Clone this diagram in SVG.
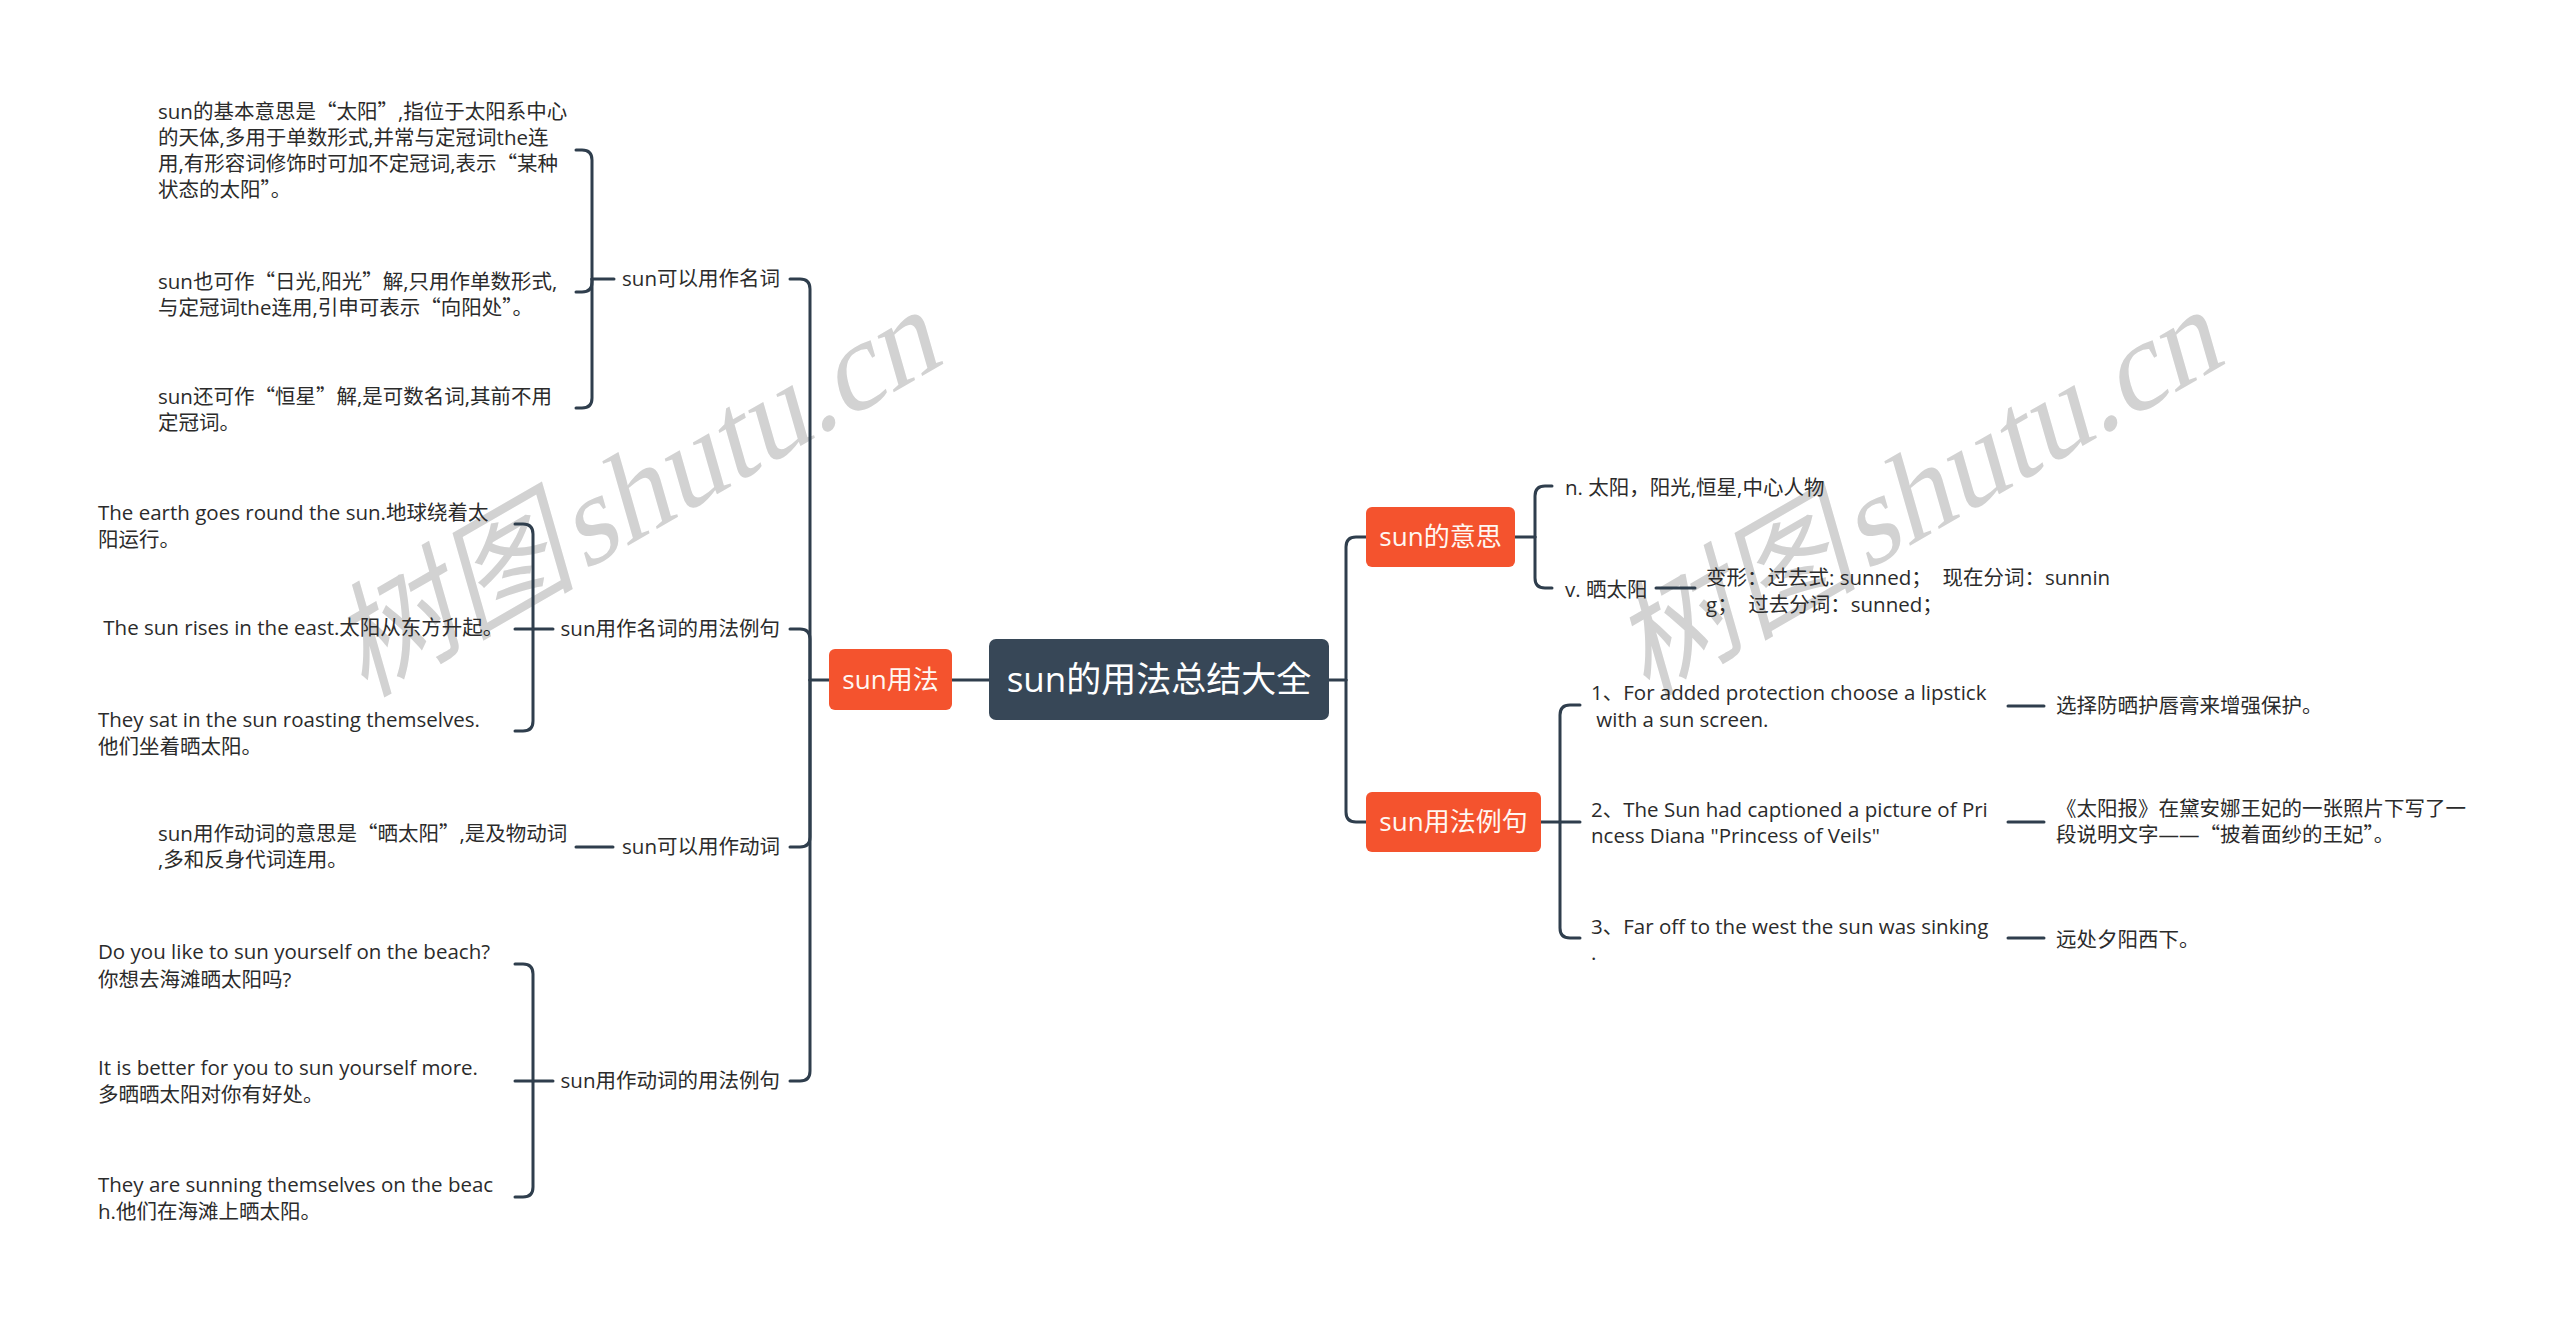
<svg xmlns="http://www.w3.org/2000/svg" width="2560" height="1321" viewBox="0 0 2560 1321">
<style>
.t{font-family:"Open Sans","Noto Sans CJK SC",sans-serif;font-size:20.5px;fill:#2b2b2b}
.q{font-family:"Noto Sans CJK SC",sans-serif}
.bx{fill:#f4532e}
.bt{font-family:"Open Sans","Noto Sans CJK SC",sans-serif;font-size:26px;fill:#fff7f2;text-anchor:middle}
.rt{font-family:"Open Sans","Noto Sans CJK SC",sans-serif;font-size:35px;fill:#ffffff;text-anchor:middle}
.ln{fill:none;stroke:#2f3e4d;stroke-width:3;stroke-linecap:round}
.wm{font-family:"Liberation Serif","Noto Sans CJK SC",serif;font-size:124px;fill:#d2d2d2}
</style>
<rect width="2560" height="1321" fill="#ffffff"/>
<g id="watermarks">
<text class="wm" transform="translate(364 698) rotate(-30) skewX(-14)">树图<tspan dx="6">shutu.cn</tspan></text>
<text class="wm" transform="translate(1646 698) rotate(-30) skewX(-14)">树图<tspan dx="6">shutu.cn</tspan></text>
</g>
<g id="connectors">
<path class="ln" d="M952 680H989"/>
<path class="ln" d="M829 680H810"/>
<path class="ln" d="M810 680V289Q810 279 800 279H790"/>
<path class="ln" d="M810 680V639Q810 629 800 629H790"/>
<path class="ln" d="M810 680V837Q810 847 800 847H790"/>
<path class="ln" d="M810 680V1071Q810 1081 800 1081H790"/>
<path class="ln" d="M614 279H592"/>
<path class="ln" d="M592 279V160Q592 150 582 150H576"/>
<path class="ln" d="M592 279V282Q592 292 582 292H576"/>
<path class="ln" d="M592 279V398Q592 408 582 408H576"/>
<path class="ln" d="M553 629H533"/>
<path class="ln" d="M533 629V534Q533 524 523 524H515"/>
<path class="ln" d="M533 629H515"/>
<path class="ln" d="M533 629V721Q533 731 523 731H515"/>
<path class="ln" d="M613 847H576"/>
<path class="ln" d="M553 1081H533"/>
<path class="ln" d="M533 1081V974Q533 964 523 964H515"/>
<path class="ln" d="M533 1081H515"/>
<path class="ln" d="M533 1081V1187Q533 1197 523 1197H515"/>
<path class="ln" d="M1329 680H1346"/>
<path class="ln" d="M1346 680V547Q1346 537 1356 537H1366"/>
<path class="ln" d="M1346 680V812Q1346 822 1356 822H1366"/>
<path class="ln" d="M1515 537H1535"/>
<path class="ln" d="M1535 537V496Q1535 486 1545 486H1552"/>
<path class="ln" d="M1535 537V578Q1535 588 1545 588H1552"/>
<path class="ln" d="M1656 588H1695"/>
<path class="ln" d="M1541 822H1560"/>
<path class="ln" d="M1560 822V715Q1560 705 1570 705H1580"/>
<path class="ln" d="M1560 822H1580"/>
<path class="ln" d="M1560 822V928Q1560 938 1570 938H1580"/>
<path class="ln" d="M2008 706H2044"/>
<path class="ln" d="M2008 822H2044"/>
<path class="ln" d="M2008 938H2044"/>
</g>
<g id="root">
<rect x="989" y="639" width="340" height="81" rx="7" fill="#374757"/>
<text class="rt" x="1159" y="692">sun的用法总结大全</text>
</g>
<g id="n-usage">
<rect class="bx" x="829" y="649" width="123" height="61" rx="6"/>
<text class="bt" x="890.5" y="689">sun用法</text>
</g>
<g id="n-meaning">
<rect class="bx" x="1366" y="507" width="149" height="60" rx="6"/>
<text class="bt" x="1440.5" y="546">sun的意思</text>
</g>
<g id="n-examples">
<rect class="bx" x="1366" y="792" width="175" height="60" rx="6"/>
<text class="bt" x="1453.5" y="831">sun用法例句</text>
</g>
<g id="n-noun">
<text class="t" x="780" y="286" text-anchor="end">sun可以用作名词</text>
</g>
<g id="n-noun-ex">
<text class="t" x="780" y="636" text-anchor="end">sun用作名词的用法例句</text>
</g>
<g id="n-verb">
<text class="t" x="780" y="854" text-anchor="end">sun可以用作动词</text>
</g>
<g id="n-verb-ex">
<text class="t" x="780" y="1088" text-anchor="end">sun用作动词的用法例句</text>
</g>
<g id="leaf-noun-1">
<text class="t" x="158" y="119">sun的基本意思是<tspan class="q">“</tspan>太阳<tspan class="q">”</tspan>,指位于太阳系中心</text>
<text class="t" x="158" y="145">的天体,多用于单数形式,并常与定冠词the连</text>
<text class="t" x="158" y="171">用,有形容词修饰时可加不定冠词,表示<tspan class="q">“</tspan>某种</text>
<text class="t" x="158" y="197">状态的太阳<tspan class="q">”</tspan>。</text>
</g>
<g id="leaf-noun-2">
<text class="t" x="158" y="289">sun也可作<tspan class="q">“</tspan>日光,阳光<tspan class="q">”</tspan>解,只用作单数形式,</text>
<text class="t" x="158" y="315">与定冠词the连用,引申可表示<tspan class="q">“</tspan>向阳处<tspan class="q">”</tspan>。</text>
</g>
<g id="leaf-noun-3">
<text class="t" x="158" y="404">sun还可作<tspan class="q">“</tspan>恒星<tspan class="q">”</tspan>解,是可数名词,其前不用</text>
<text class="t" x="158" y="430">定冠词。</text>
</g>
<g id="leaf-noun-ex-1">
<text class="t" x="98" y="520">The earth goes round the sun.地球绕着太</text>
<text class="t" x="98" y="547">阳运行。</text>
</g>
<g id="leaf-noun-ex-2">
<text class="t" x="98" y="635" style="white-space:pre"> The sun rises in the east.太阳从东方升起。</text>
</g>
<g id="leaf-noun-ex-3">
<text class="t" x="98" y="727">They sat in the sun roasting themselves.</text>
<text class="t" x="98" y="754">他们坐着晒太阳。</text>
</g>
<g id="leaf-verb-1">
<text class="t" x="158" y="841">sun用作动词的意思是<tspan class="q">“</tspan>晒太阳<tspan class="q">”</tspan>,是及物动词</text>
<text class="t" x="158" y="867">,多和反身代词连用。</text>
</g>
<g id="leaf-verb-ex-1">
<text class="t" x="98" y="959">Do you like to sun yourself on the beach?</text>
<text class="t" x="98" y="987">你想去海滩晒太阳吗?</text>
</g>
<g id="leaf-verb-ex-2">
<text class="t" x="98" y="1075">It is better for you to sun yourself more.</text>
<text class="t" x="98" y="1102">多晒晒太阳对你有好处。</text>
</g>
<g id="leaf-verb-ex-3">
<text class="t" x="98" y="1192">They are sunning themselves on the beac</text>
<text class="t" x="98" y="1219">h.他们在海滩上晒太阳。</text>
</g>
<g id="leaf-n">
<text class="t" x="1565" y="495">n. 太阳，阳光,恒星,中心人物</text>
</g>
<g id="leaf-v">
<text class="t" x="1565" y="597">v. 晒太阳</text>
</g>
<g id="leaf-forms">
<text class="t" x="1706" y="585" style="white-space:pre">变形：过去式: sunned；  现在分词：sunnin</text>
<text class="t" x="1706" y="612" style="white-space:pre">g；  过去分词：sunned；</text>
</g>
<g id="ex-1">
<text class="t" x="1591" y="700">1、For added protection choose a lipstick</text>
<text class="t" x="1591" y="727" style="white-space:pre"> with a sun screen.</text>
</g>
<g id="ex-2">
<text class="t" x="1591" y="817">2、The Sun had captioned a picture of Pri</text>
<text class="t" x="1591" y="843">ncess Diana "Princess of Veils"</text>
</g>
<g id="ex-3">
<text class="t" x="1591" y="934">3、Far off to the west the sun was sinking</text>
<text class="t" x="1591" y="960">.</text>
</g>
<g id="tr-1">
<text class="t" x="2056" y="713">选择防晒护唇膏来增强保护。</text>
</g>
<g id="tr-2">
<text class="t" x="2056" y="816">《太阳报》在黛安娜王妃的一张照片下写了一</text>
<text class="t" x="2056" y="842">段说明文字——<tspan class="q">“</tspan>披着面纱的王妃<tspan class="q">”</tspan>。</text>
</g>
<g id="tr-3">
<text class="t" x="2056" y="947">远处夕阳西下。</text>
</g>
</svg>
